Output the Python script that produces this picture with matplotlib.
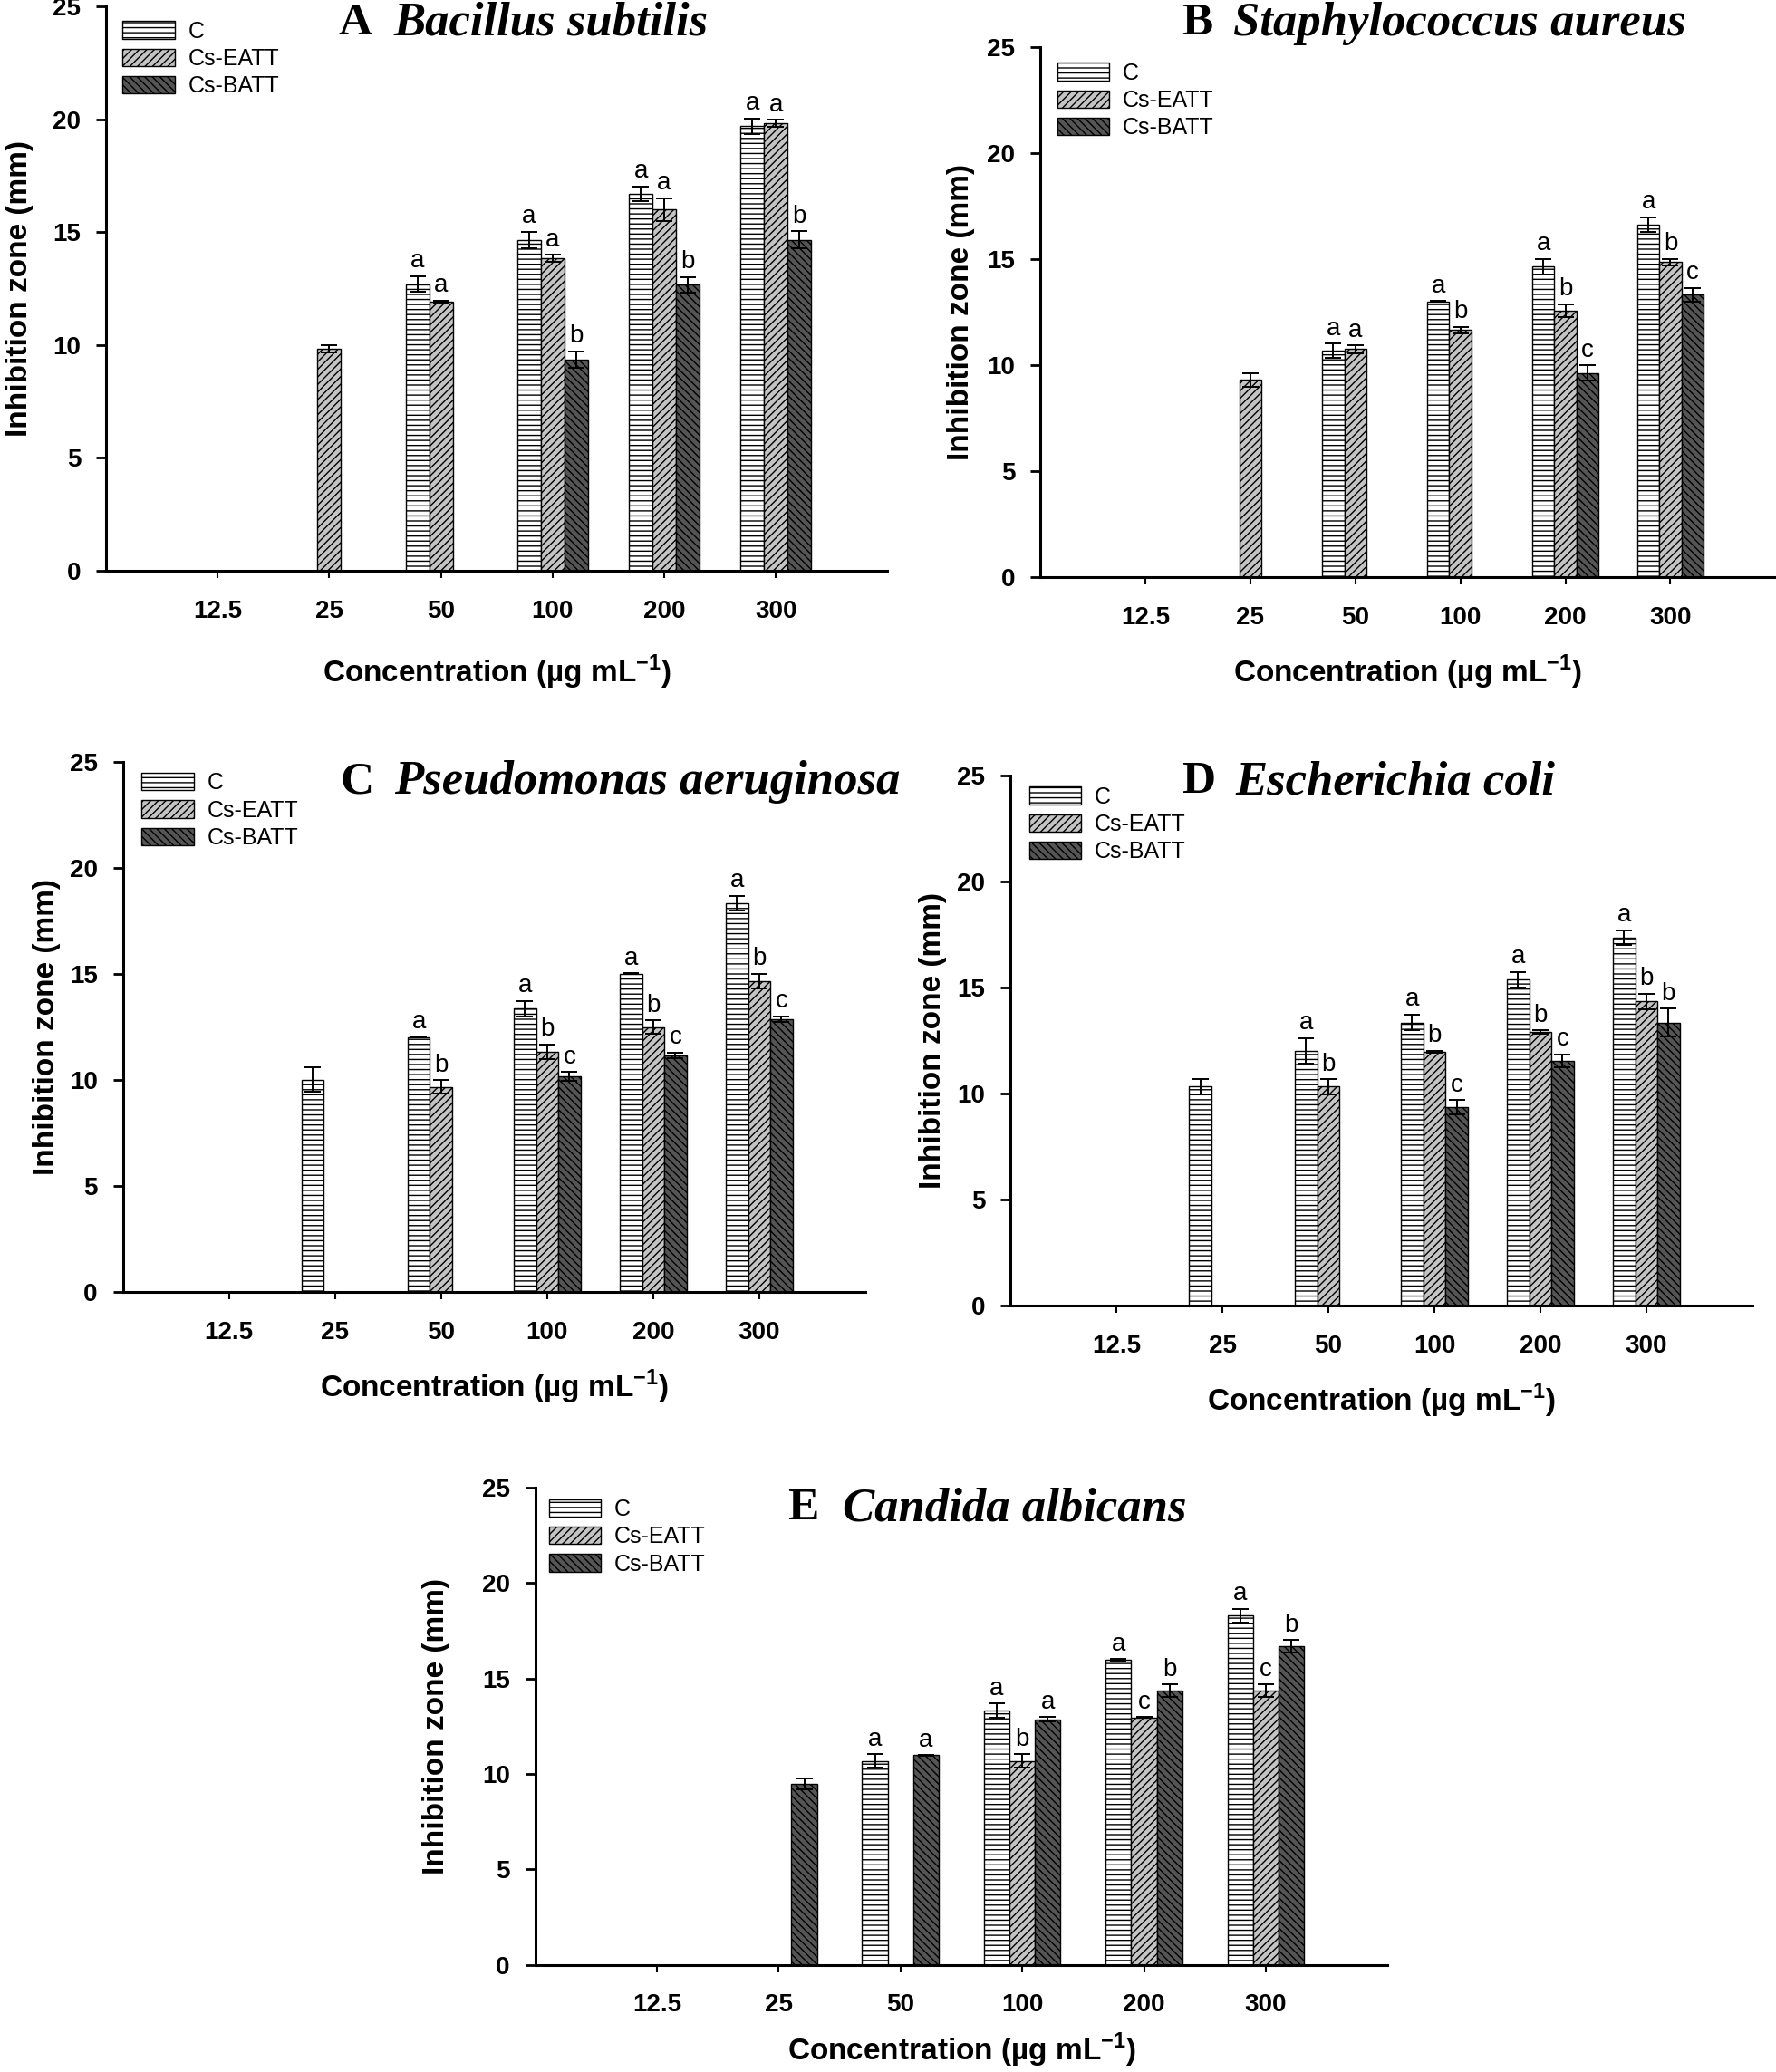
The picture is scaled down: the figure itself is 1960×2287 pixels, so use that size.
import numpy as np
import matplotlib
matplotlib.use("Agg")
import matplotlib.pyplot as plt

plt.rcParams['font.family'] = ['Liberation Sans', 'DejaVu Sans']
plt.rcParams['mathtext.fontset'] = 'custom'
plt.rcParams['mathtext.rm'] = 'Liberation Sans'
plt.rcParams['mathtext.bf'] = 'Liberation Sans:bold'
plt.rcParams['hatch.linewidth'] = 1.0

nan = np.nan
conc_labels = ["12.5", "25", "50", "100", "200", "300"]
series_names = ["C", "Cs-EATT", "Cs-BATT"]

# A  Bacillus subtilis
a_c = [nan, nan, 12.7, 14.65, 16.7, 19.7]
a_c_err = [0, 0, 0.34, 0.38, 0.32, 0.34]
a_c_sig = ["", "", "a", "a", "a", "a"]
a_eatt = [nan, 9.83, 11.92, 13.83, 16.0, 19.82]
a_eatt_err = [0, 0.17, 0.05, 0.16, 0.5, 0.15]
a_eatt_sig = ["", "", "a", "a", "a", "a"]
a_batt = [nan, nan, nan, 9.35, 12.68, 14.66]
a_batt_err = [0, 0, 0, 0.37, 0.34, 0.38]
a_batt_sig = ["", "", "", "b", "b", "b"]

# B  Staphylococcus aureus
b_c = [nan, nan, 10.68, 13.0, 14.65, 16.64]
b_c_err = [0, 0, 0.35, 0.02, 0.36, 0.34]
b_c_sig = ["", "", "a", "a", "a", "a"]
b_eatt = [nan, 9.31, 10.76, 11.67, 12.58, 14.86]
b_eatt_err = [0, 0.33, 0.18, 0.15, 0.3, 0.15]
b_eatt_sig = ["", "", "a", "b", "b", "b"]
b_batt = [nan, nan, nan, nan, 9.64, 13.33]
b_batt_err = [0, 0, 0, 0, 0.35, 0.33]
b_batt_sig = ["", "", "", "", "c", "c"]

# C  Pseudomonas aeruginosa
c_c = [nan, 10.01, 12.03, 13.37, 15.03, 18.35]
c_c_err = [0, 0.58, 0.02, 0.37, 0.02, 0.34]
c_c_sig = ["", "", "a", "a", "a", "a"]
c_eatt = [nan, nan, 9.67, 11.33, 12.5, 14.67]
c_eatt_err = [0, 0, 0.32, 0.36, 0.32, 0.35]
c_eatt_sig = ["", "", "b", "b", "b", "b"]
c_batt = [nan, nan, nan, 10.18, 11.16, 12.88]
c_batt_err = [0, 0, 0, 0.2, 0.14, 0.14]
c_batt_sig = ["", "", "", "c", "c", "c"]

# D  Escherichia coli
d_c = [nan, 10.33, 12.01, 13.35, 15.37, 17.35]
d_c_err = [0, 0.37, 0.6, 0.37, 0.36, 0.35]
d_c_sig = ["", "", "a", "a", "a", "a"]
d_eatt = [nan, nan, 10.33, 11.97, 12.9, 14.35]
d_eatt_err = [0, 0, 0.35, 0.05, 0.08, 0.36]
d_eatt_sig = ["", "", "b", "b", "b", "b"]
d_batt = [nan, nan, nan, 9.35, 11.54, 13.35]
d_batt_err = [0, 0, 0, 0.35, 0.32, 0.66]
d_batt_sig = ["", "", "", "c", "c", "b"]

# E  Candida albicans
e_c = [nan, nan, 10.67, 13.33, 15.97, 18.3]
e_c_err = [0, 0, 0.35, 0.37, 0.05, 0.36]
e_c_sig = ["", "", "a", "a", "a", "a"]
e_eatt = [nan, nan, nan, 10.67, 12.96, 14.37]
e_eatt_err = [0, 0, 0, 0.35, 0.03, 0.32]
e_eatt_sig = ["", "", "", "b", "c", "c"]
e_batt = [nan, 9.48, 10.98, 12.85, 14.37, 16.7]
e_batt_err = [0, 0.3, 0.02, 0.12, 0.32, 0.33]
e_batt_sig = ["", "", "a", "a", "b", "b"]

panels = [
    ("A", "Bacillus subtilis", [a_c, a_eatt, a_batt], [a_c_err, a_eatt_err, a_batt_err],
     [a_c_sig, a_eatt_sig, a_batt_sig]),
    ("B", "Staphylococcus aureus", [b_c, b_eatt, b_batt], [b_c_err, b_eatt_err, b_batt_err],
     [b_c_sig, b_eatt_sig, b_batt_sig]),
    ("C", "Pseudomonas aeruginosa", [c_c, c_eatt, c_batt], [c_c_err, c_eatt_err, c_batt_err],
     [c_c_sig, c_eatt_sig, c_batt_sig]),
    ("D", "Escherichia coli", [d_c, d_eatt, d_batt], [d_c_err, d_eatt_err, d_batt_err],
     [d_c_sig, d_eatt_sig, d_batt_sig]),
    ("E", "Candida albicans", [e_c, e_eatt, e_batt], [e_c_err, e_eatt_err, e_batt_err],
     [e_c_sig, e_eatt_sig, e_batt_sig]),
]

# layout: axes rect, title pos (letter right, name left, y), legend anchor, ylabel x
layout = [
    ([0.0597, 0.7245, 0.440, 0.2724], (0.341, 0.368, 0.970), (0.021, 0.975), -0.111),
    ([0.5857, 0.7215, 0.414, 0.2556], (0.235, 0.262, 1.045), (0.023, 0.972), -0.108),
    ([0.0692, 0.3765, 0.418, 0.2556], (0.338, 0.365, 0.963), (0.025, 0.981), -0.103),
    ([0.5690, 0.3699, 0.4176, 0.2558], (0.276, 0.303, 0.988), (0.025, 0.980), -0.105),
    ([0.3013, 0.0518, 0.480, 0.2302], (0.333, 0.361, 0.956), (0.016, 0.977), -0.116),
]

faces = ["white", "#c4c4c4", "#555555"]
hatches = ["---", "////", "\\\\\\\\"]
width = 0.21
offsets = [-width, 0, width]

fig = plt.figure(figsize=(19.6, 22.87), dpi=100)
x = np.arange(len(conc_labels))

for (letter, name, vals, errs, sigs), (rect, tpos, lpos, ylx) in zip(panels, layout):
    ax = fig.add_axes(rect)
    for j in range(3):
        v = np.array(vals[j], dtype=float)
        e = np.array(errs[j], dtype=float)
        ax.bar(x + offsets[j], v, width, yerr=e, color=faces[j], edgecolor="black",
               linewidth=1.0, hatch=hatches[j], label=series_names[j],
               error_kw=dict(ecolor="black", elinewidth=1.4, capsize=6.5, capthick=1.4))
        for i in range(len(x)):
            if sigs[j][i]:
                ax.text(x[i] + offsets[j], v[i] + e[i] + 0.15, sigs[j][i],
                        ha="center", va="bottom", fontsize=20)

    ax.set_xlim(-1, 6)
    ax.set_ylim(0, 25)
    ax.set_yticks([0, 5, 10, 15, 20, 25])
    ax.set_xticks(x)
    ax.set_xticklabels(conc_labels)
    for s in ["top", "right"]:
        ax.spines[s].set_visible(False)
    for s in ["left", "bottom"]:
        ax.spines[s].set_linewidth(2.2)
    ax.tick_params(axis="y", direction="out", length=8, width=2, labelsize=20, pad=12)
    ax.tick_params(axis="x", direction="out", length=6, width=1.5, labelsize=20, pad=17)
    for lab in ax.get_xticklabels() + ax.get_yticklabels():
        lab.set_fontweight("bold")

    ax.set_xlabel(r"Concentration (µg mL$^{\mathbf{-1}}$)", fontsize=24, fontweight="bold")
    ax.xaxis.label.set_va("center")
    ax.xaxis.set_label_coords(0.5, -0.18)
    ax.set_ylabel("Inhibition zone (mm)", fontsize=24, fontweight="bold")
    ax.yaxis.label.set_va("center")
    ax.yaxis.set_label_coords(ylx, 0.5)

    ax.text(tpos[0], tpos[2], letter, transform=ax.transAxes, ha="right", va="center",
            fontfamily="Liberation Serif", fontweight="bold", fontsize=37)
    ax.text(tpos[1], tpos[2], name, transform=ax.transAxes, ha="left", va="center",
            fontfamily="Liberation Serif", fontweight="bold", fontstyle="italic", fontsize=38)

    ax.legend(loc="upper left", bbox_to_anchor=lpos, frameon=False, fontsize=18,
              handlelength=2.3, handleheight=0.8, handletextpad=0.6, labelspacing=0.25,
              borderaxespad=0, borderpad=0)

fig.savefig("out.png", dpi=100)
